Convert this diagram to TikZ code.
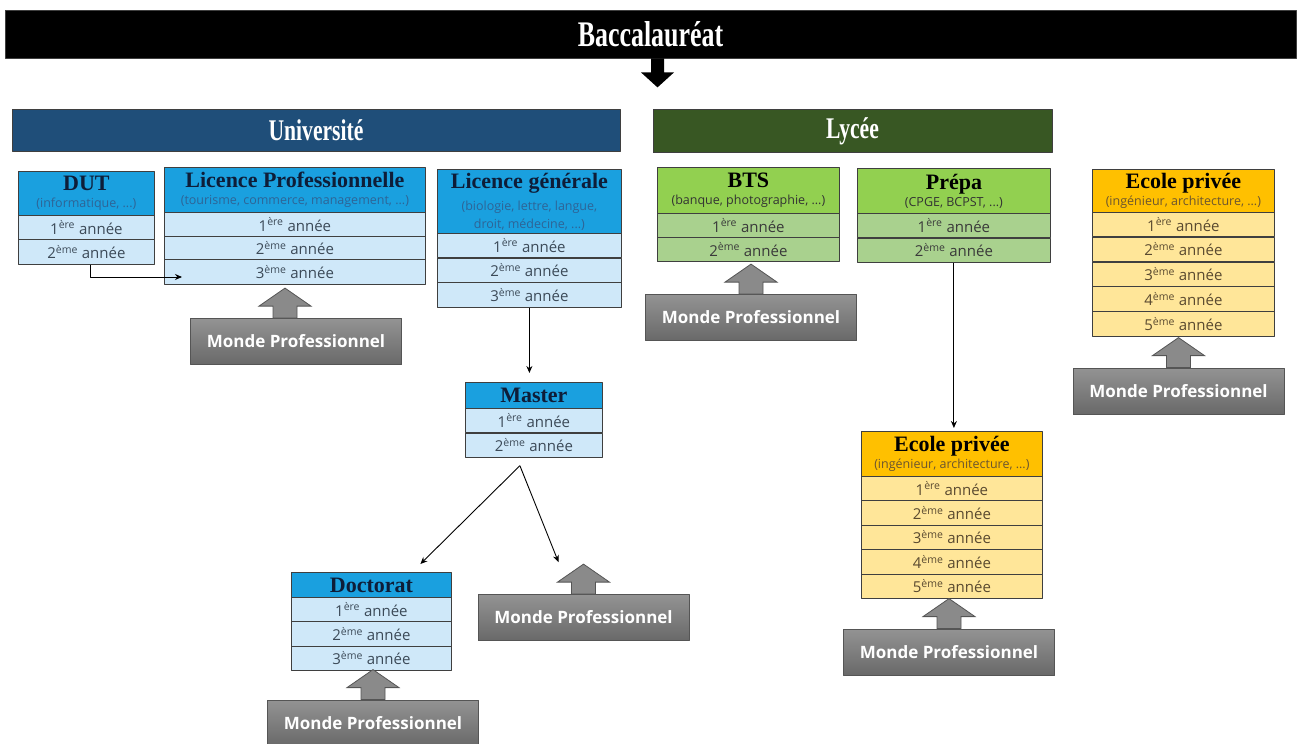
\documentclass[tikz,border=0pt]{standalone}
\usepackage{fontspec}
\setmainfont{Open Sans}
\newfontfamily\titrefont{Liberation Serif}
\newfontfamily\condfont{Liberation Serif}[FakeStretch=0.72]
\usetikzlibrary{arrows.meta}
\definecolor{bleuU}{HTML}{1F4E79}
\definecolor{vertL}{HTML}{385723}
\definecolor{bleuT}{HTML}{1AA0DF}
\definecolor{bleuC}{HTML}{CFE8F9}
\definecolor{vertT}{HTML}{92D050}
\definecolor{vertC}{HTML}{A9D18E}
\definecolor{orT}{HTML}{FFC000}
\definecolor{orC}{HTML}{FFE699}
\definecolor{trait}{HTML}{3F3F3F}
\definecolor{grisH}{HTML}{939393}
\definecolor{grisB}{HTML}{696969}
\definecolor{grisF}{HTML}{555555}
\definecolor{grisA}{HTML}{8A8A8A}
\definecolor{titreB}{HTML}{0E1D38}
\definecolor{sousB}{HTML}{2E6496}
\definecolor{texteB}{HTML}{3C4A58}
\definecolor{sousV}{HTML}{333333}
\definecolor{texteV}{HTML}{3A3A3A}
\definecolor{sousO}{HTML}{6B5530}
\definecolor{texteO}{HTML}{5A4A30}
\newcommand{\titre}[1]{{\titrefont\bfseries\fontsize{22}{24}\selectfont #1}}
\newcommand{\sous}[2]{{\color{#1}\fontsize{12.5}{15}\selectfont #2}}
\newcommand{\annee}[1]{#1\textsuperscript{\ifnum#1=1 ère\else ème\fi}~année}
\begin{document}
\begin{tikzpicture}[x=1pt, y=-1pt, line join=round, >={Stealth[length=7pt,width=6pt]},
    tete/.style={draw=trait, line width=0.8pt, anchor=north west, inner sep=0pt, align=center, font=\fontsize{12.5}{17}\selectfont},
    rang/.style={draw=trait, line width=0.8pt, anchor=north west, inner sep=0pt, minimum height=24.4pt, font=\fontsize{15}{18}\selectfont},
    barre/.style={draw=trait, line width=0.8pt, text=white, font=\condfont\bfseries\fontsize{30}{32}\selectfont},
    monde/.style={draw=grisF, line width=0.8pt, top color=grisH, bottom color=grisB, minimum width=211pt, minimum height=46pt, text=white, font=\bfseries\fontsize{17}{20}\selectfont},
    bloc/.style={draw=grisF, fill=grisA, line width=0.8pt, line join=miter},
    fleche/.style={->, line width=0.9pt}]
\useasboundingbox (0,0) rectangle (1301,744);

% bandeaux
\node[barre, fill=black, minimum width=1291pt, minimum height=48pt, font=\condfont\bfseries\fontsize{36}{38}\selectfont] (bac) at (650.5,34) {Baccalauréat};
\node[barre, fill=bleuU, minimum width=608pt, minimum height=42pt] (univ) at (316,130) {Université};
\node[barre, fill=vertL, minimum width=399pt, minimum height=43pt] (lycee) at (852.5,131) {Lycée};
\coordinate (bacf) at ([xshift=7pt]bac.south);
\fill (bacf) ++(-6.5,0) -- ++(0,14) -- ++(-10,0) -- ++(16.5,15) -- ++(16.5,-15) -- ++(-10,0) -- ++(0,-14) -- cycle;

% Université
\node[tete, fill=bleuT, text=titreB, minimum width=136pt, minimum height=44pt] (dut) at (18,171) {\titre{DUT}\\\sous{sousB}{(informatique, ...)}};
\foreach \i in {1,2}
  \node[rang, fill=bleuC, text=texteB, minimum width=136pt] (dut\i) at (18,{215+(\i-1)*24.4}) {\annee{\i}};
\node[tete, fill=bleuT, text=titreB, minimum width=261pt, minimum height=45pt] (lp) at (164,167) {\titre{Licence Professionnelle}\\\sous{sousB}{(tourisme, commerce, management, ...)}};
\foreach \i in {1,2,3}
  \node[rang, fill=bleuC, text=texteB, minimum width=261pt] (lp\i) at (164,{212+(\i-1)*23.7}) {\annee{\i}};
\node[tete, fill=bleuT, text=titreB, minimum width=184pt, minimum height=64pt] (lg) at (437,169) {\titre{Licence générale}\\[5pt]\sous{sousB}{(biologie, lettre, langue,}\\[1pt]\sous{sousB}{droit, médecine, ...)}};
\foreach \i in {1,2,3}
  \node[rang, fill=bleuC, text=texteB, minimum width=184pt] (lg\i) at (437,{233+(\i-1)*24.7}) {\annee{\i}};
\node[tete, fill=bleuT, text=titreB, minimum width=137pt, minimum height=26pt] (ma) at (465,382) {\titre{Master}};
\foreach \i in {1,2}
  \node[rang, fill=bleuC, text=texteB, minimum width=137pt] (ma\i) at (465,{408+(\i-1)*24.5}) {\annee{\i}};
\node[tete, fill=bleuT, text=titreB, minimum width=160pt, minimum height=25pt] (doc) at (291,572) {\titre{Doctorat}};
\foreach \i in {1,2,3}
  \node[rang, fill=bleuC, text=texteB, minimum width=160pt] (doc\i) at (291,{597+(\i-1)*24.4}) {\annee{\i}};

% Lycée
\node[tete, fill=vertT, text=black, minimum width=182pt, minimum height=46pt] (bts) at (657,167) {\titre{BTS}\\\sous{sousV}{(banque, photographie, ...)}};
\foreach \i in {1,2}
  \node[rang, fill=vertC, text=texteV, minimum width=182pt] (bts\i) at (657,{213+(\i-1)*24}) {\annee{\i}};
\node[tete, fill=vertT, text=black, minimum width=193pt, minimum height=45pt] (pr) at (857,168) {\titre{Prépa}\\\sous{sousV}{(CPGE, BCPST, ...)}};
\foreach \i in {1,2}
  \node[rang, fill=vertC, text=texteV, minimum width=193pt] (pr\i) at (857,{213+(\i-1)*24.5}) {\annee{\i}};

% écoles privées
\node[tete, fill=orT, text=black, minimum width=182pt, minimum height=43pt] (epr) at (1092,169) {\titre{Ecole privée}\\\sous{sousO}{(ingénieur, architecture, ...)}};
\foreach \i in {1,...,5}
  \node[rang, fill=orC, text=texteO, minimum width=182pt] (epr\i) at (1092,{212+(\i-1)*24.8}) {\annee{\i}};
\node[tete, fill=orT, text=black, minimum width=181pt, minimum height=45pt] (epm) at (861,431) {\titre{Ecole privée}\\\sous{sousO}{(ingénieur, architecture, ...)}};
\foreach \i in {1,...,5}
  \node[rang, fill=orC, text=texteO, minimum width=181pt] (epm\i) at (861,{476+(\i-1)*24.4}) {\annee{\i}};

% monde professionnel
\node[monde] (m1) at (296,341.5) {Monde Professionnel};
\node[monde] (m2) at (751,317.5) {Monde Professionnel};
\node[monde] (m3) at (1178.5,391) {Monde Professionnel};
\node[monde] (m4) at (949,652) {Monde Professionnel};
\node[monde] (m5) at (583.5,617.5) {Monde Professionnel};
\node[monde] (m6) at (373,723) {Monde Professionnel};
\foreach \m/\d in {m1/-23,m2/-12,m3/-12,m4/-12,m5/-12,m6/-12}
  \draw[bloc] ([xshift=\d pt]\m.north) -- ++(0,-12) -- ++(-14,0) -- ++(26,-18) -- ++(26,18) -- ++(-14,0) -- ++(0,12) -- cycle;

% liaisons
\draw[fleche] ([xshift=4pt]dut2.south) |- ([xshift=18pt,yshift=-5pt]lp3.west);
\draw[fleche, shorten >=9pt] (lg3.south) -- (lg3.south |- ma.north);
\draw[fleche, shorten >=3pt] (pr2.south) -- (pr2.south |- epm.north);
\coordinate (fourche) at ([xshift=-14pt,yshift=-8pt]ma2.south);
\draw[fleche] (fourche) -- ([xshift=49pt,yshift=8pt]doc.north);
\draw[fleche] (fourche) -- ([xshift=-25pt,yshift=32pt]m5.north);
\end{tikzpicture}
\end{document}
